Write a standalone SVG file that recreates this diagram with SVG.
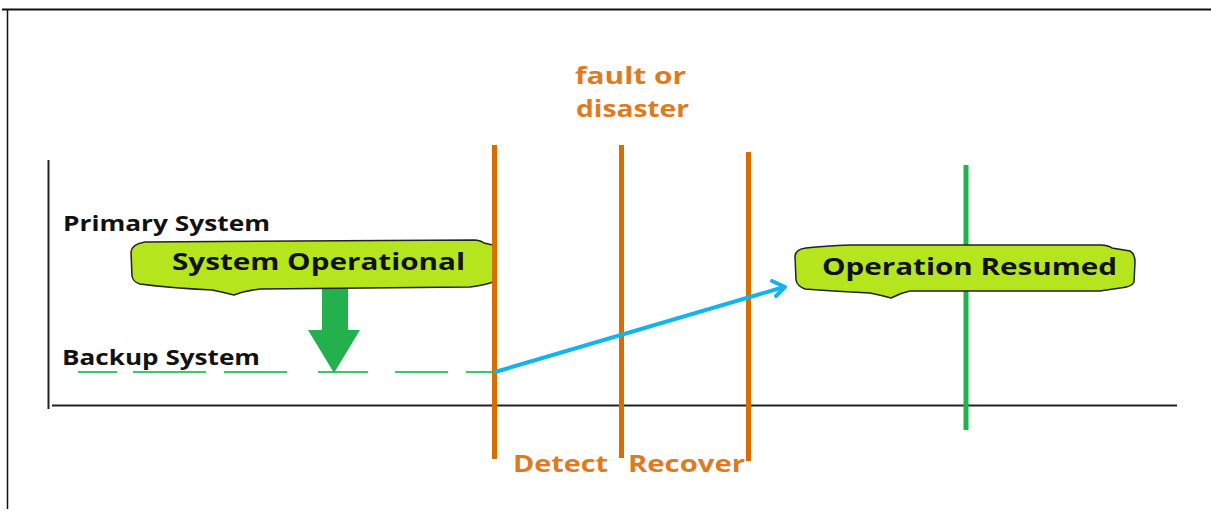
<svg xmlns="http://www.w3.org/2000/svg" width="1211" height="511" viewBox="0 0 1211 511">
<style>
.lbl{font-family:"Open Sans","DejaVu Sans",sans-serif;font-weight:bold;}
.blk{fill:#111;font-size:21px;}
.bub{fill:#111;font-size:24px;}
.org{fill:#E07A1F;font-size:23px;}
.bubble{fill:#B5E61D;stroke:#222;stroke-width:1.5;}
.orange{stroke:#D96D00;stroke-width:5;}
</style>
<rect x="0" y="0" width="1211" height="511" fill="#fff"/>
<g id="frame" fill="none" stroke="#111">
<line x1="2" y1="9.5" x2="1211" y2="9.5" stroke-width="2"/>
<line x1="7.5" y1="10" x2="7.5" y2="509" stroke-width="1.5"/>
</g>
<g id="axes" fill="none" stroke="#222">
<line x1="48.5" y1="160" x2="48.5" y2="409" stroke-width="2"/>
<line x1="52" y1="405.5" x2="1177" y2="405.5" stroke-width="2"/>
</g>
<g id="connectors">
<line x1="78" y1="372" x2="495" y2="372" stroke="#3CC86A" stroke-width="2" stroke-dasharray="39 16 73 18 63 31 50 27 53 18 40 0"/>
<g id="arrow-down" fill="#22B14C">
<polygon points="322,288 348,288 348,330 360,330 334,373 308,330 322,330"/>
</g>
<line x1="966" y1="165" x2="966" y2="430" stroke="#22B14C" stroke-width="5"/>
</g>
<g id="primary-label"><text class="lbl blk" x="63" y="231" textLength="207" lengthAdjust="spacingAndGlyphs">Primary System</text></g>
<g id="backup-label"><text class="lbl blk" x="62" y="365" textLength="198" lengthAdjust="spacingAndGlyphs">Backup System</text></g>
<g id="system-operational">
<path class="bubble" d="M145,242 L475,240 Q482,241 484,243 L493,245 L493,282 Q485,285 470,287 L260,289 Q245,291 234,295 Q222,292 212,290 Q170,288 140,284 Q133,282 132,276 L131,252 Q132,244 145,242 Z"/>
<text class="lbl bub" x="172" y="270" textLength="293" lengthAdjust="spacingAndGlyphs">System Operational</text>
</g>
<g id="operation-resumed">
<path class="bubble" d="M806,248 Q825,246 850,245 L1102,245 Q1110,246 1112,248 L1130,251 Q1135,254 1135,262 L1134,282 Q1132,287 1120,288 L1100,291 L910,291 Q900,293 891,298 Q880,295 870,293 Q830,291 805,289 Q797,286 796,280 L795,256 Q796,249 806,248 Z"/>
<text class="lbl bub" x="822" y="275" textLength="295" lengthAdjust="spacingAndGlyphs">Operation Resumed</text>
</g>
<g id="phase-lines">
<line class="orange" x1="494.5" y1="145" x2="494.5" y2="459"/>
<line class="orange" x1="621.5" y1="145" x2="621.5" y2="458"/>
<line class="orange" x1="748.5" y1="152" x2="748.5" y2="461"/>
</g>
<g id="failover-arrow" fill="none" stroke="#12B4F0" stroke-width="4" stroke-linecap="round" stroke-linejoin="round">
<line x1="495" y1="372" x2="784" y2="287"/>
<polyline points="772,281 785,287 776,296"/>
</g>
<g id="fault-label">
<text class="lbl org" x="575" y="84" textLength="111" lengthAdjust="spacingAndGlyphs">fault or</text>
<text class="lbl org" x="576" y="117" textLength="113" lengthAdjust="spacingAndGlyphs">disaster</text>
</g>
<g id="detect-label"><text class="lbl org" x="513" y="472" textLength="95" lengthAdjust="spacingAndGlyphs">Detect</text></g>
<g id="recover-label"><text class="lbl org" x="628" y="472" textLength="117" lengthAdjust="spacingAndGlyphs">Recover</text></g>
</svg>
